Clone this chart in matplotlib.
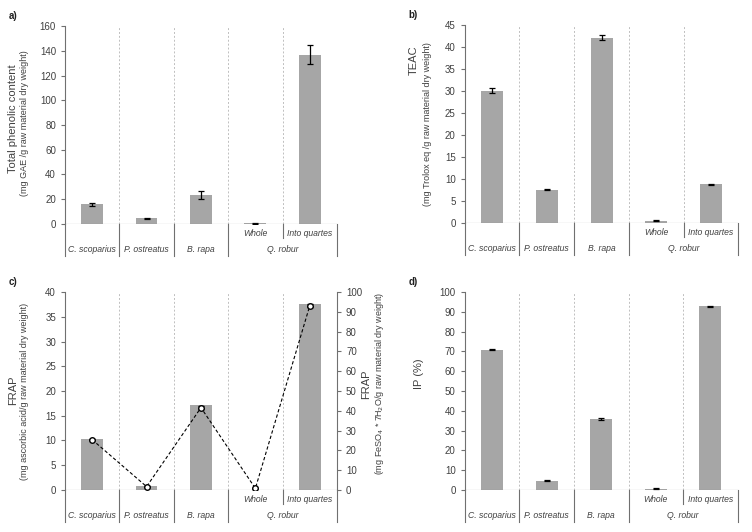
import matplotlib.pyplot as plt
from matplotlib.transforms import blended_transform_factory

plt.rcParams["font.family"] = ["Liberation Sans", "DejaVu Sans"]

species = ["C. scoparius", "P. ostreatus", "B. rapa", "Q. robur"]
oak_parts = ["Whole", "Into quartes"]

tpc = [15.8, 4.7, 23.3, 0.5, 137.0]
tpc_err = [1.5, 0.5, 3.0, 0.3, 8.0]

teac = [30.1, 7.5, 42.1, 0.5, 8.8]
teac_err = [0.5, 0.1, 0.6, 0.15, 0.1]

frap_aa = [10.4, 0.75, 17.2, 0.05, 37.6]
frap_fe = [25.4, 1.7, 41.6, 0.8, 93.1]
frap_fe_err = [0.4, 0.3, 0.6, 0.2, 0.8]

ip = [70.8, 4.7, 35.9, 0.7, 92.8]
ip_err = [0.3, 0.3, 0.3, 0.2, 0.3]

TXT = "#404040"
AX = "#707070"
BAR = "#a6a6a6"
FS_TICK = 7
FS_CAT = 6.2

fig = plt.figure(figsize=(7.52, 5.32), dpi=100)


def panel(rect, vals, errs, ymax, step, letter):
    ax = fig.add_axes(rect)
    x = list(range(len(vals)))
    ax.bar(x, vals, width=0.4, color=BAR, zorder=2)
    if errs is not None:
        ax.errorbar(x, vals, yerr=errs, fmt="none", ecolor="black",
                    elinewidth=0.9, capsize=2.5, capthick=0.9, zorder=3)
    ax.set_xlim(-0.5, 4.5)
    ax.set_ylim(0, ymax)
    ax.set_yticks(range(0, ymax + 1, step))
    ax.set_xticks([])
    for s in ["top", "right", "bottom"]:
        ax.spines[s].set_visible(False)
    ax.spines["left"].set_color(AX)
    ax.tick_params(axis="y", colors=AX, labelcolor=TXT, labelsize=FS_TICK,
                   length=3, width=0.8)
    ax.axhline(0, color=AX, lw=0.8, zorder=4)
    for b in [0.5, 1.5, 2.5, 3.5, 4.5]:
        ax.axvline(b, color="#bfbfbf", lw=0.7, ls=(0, (2, 2)), zorder=1)
    # category axis below
    tr = blended_transform_factory(ax.transData, ax.transAxes)
    for b in [-0.5, 0.5, 1.5, 2.5, 4.5]:
        ax.plot([b, b], [0, -0.16], color=AX, lw=0.8, transform=tr,
                clip_on=False)
    ax.plot([3.5, 3.5], [0, -0.07], color=AX, lw=0.8, transform=tr,
            clip_on=False)
    for i, name in enumerate(species[:3]):
        ax.text(i, -0.13, name, transform=tr, ha="center", va="center",
                fontsize=FS_CAT, style="italic", color=TXT)
    ax.text(3.5, -0.13, species[3], transform=tr, ha="center", va="center",
            fontsize=FS_CAT, style="italic", color=TXT)
    for i, name in enumerate(oak_parts):
        ax.text(3 + i, -0.05, name, transform=tr, ha="center", va="center",
                fontsize=FS_CAT, style="italic", color=TXT)
    ax.text(-0.19, 1.05, letter, transform=ax.transAxes, ha="center",
            va="center", fontsize=7, fontweight="bold", color="#202020")
    return ax


def ylab(ax, x1, y1, main, x2, y2, sub):
    ax.text(x1, y1, main, transform=ax.transAxes, rotation=90, ha="center",
            va="center", fontsize=8, color=TXT)
    if sub:
        ax.text(x2, y2, sub, transform=ax.transAxes, rotation=90,
                ha="center", va="center", fontsize=6.5, color=TXT)


# a) total phenolic content
ax = panel([0.0864, 0.579, 0.3617, 0.372], tpc, tpc_err, 160, 20, "a)")
ylab(ax, -0.19, 0.53, "Total phenolic content", -0.147, 0.51,
     "(mg GAE /g raw material dry weight)")

# b) TEAC
ax = panel([0.618, 0.581, 0.364, 0.372], teac, teac_err, 45, 5, "b)")
ylab(ax, -0.186, 0.82, "TEAC", -0.135, 0.5,
     "(mg Trolox eq /g raw material dry weight)")

# c) FRAP
ax = panel([0.0864, 0.079, 0.3617, 0.372], frap_aa, None, 40, 5, "c)")
ylab(ax, -0.19, 0.505, "FRAP", -0.147, 0.5,
     "(mg ascorbic acid/g raw material dry weight)")
ax2 = ax.twinx()
ax2.set_ylim(0, 100)
ax2.set_yticks(range(0, 101, 10))
for s in ["top", "left", "bottom"]:
    ax2.spines[s].set_visible(False)
ax2.spines["right"].set_color(AX)
ax2.tick_params(axis="y", colors=AX, labelcolor=TXT, labelsize=FS_TICK,
                length=3, width=0.8)
ax2.errorbar(range(5), frap_fe, yerr=frap_fe_err, color="black", lw=0.8,
             ls=(0, (3, 2)), marker="o", ms=4, mfc="white", mec="black",
             mew=1.0, ecolor="black", elinewidth=0.9, capsize=2.5, zorder=5)
ax2.text(1.106, 0.535, "FRAP", transform=ax2.transAxes, rotation=90,
         ha="center", va="center", fontsize=8, color=TXT)
ax2.text(1.155, 0.54, "(mg FeSO$_4$ * 7H$_2$O/g raw material dry weight)",
         transform=ax2.transAxes, rotation=90, ha="center", va="center",
         fontsize=6.5, color=TXT)

# d) IP
ax = panel([0.618, 0.079, 0.363, 0.372], ip, ip_err, 100, 10, "d)")
ylab(ax, -0.168, 0.59, "IP (%)", 0, 0, None)

fig.savefig("out.png", dpi=100, facecolor="white")
